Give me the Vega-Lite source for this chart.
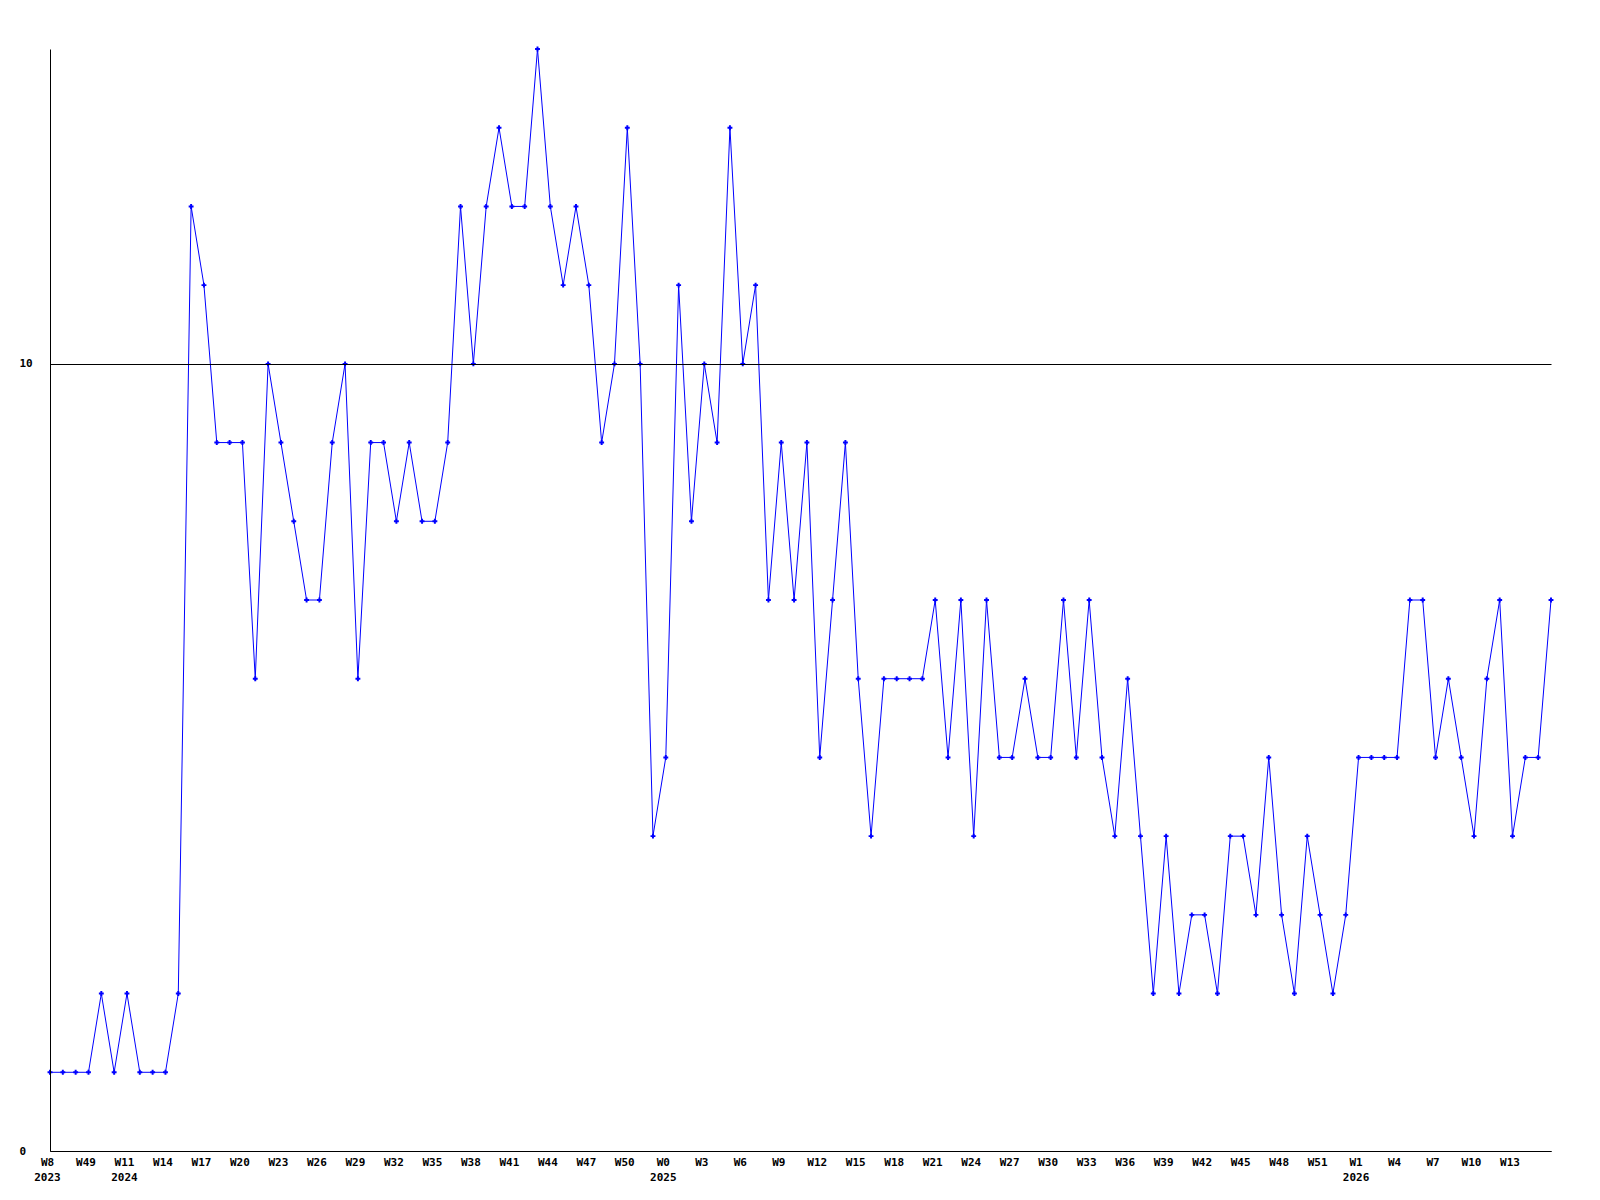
{
  "$schema": "https://vega.github.io/schema/vega-lite/v6.json",
  "width": 1501,
  "height": 1102,
  "autosize": {"type": "none"},
  "padding": {"left": 50, "top": 49, "right": 49, "bottom": 49},
  "background": "white",
  "config": {"view": {"stroke": null}},
  "data": {"values": [
    {"week": "2023-W8", "count": 1}, {"week": "2023-W9", "count": 1}, {"week": "2023-W10", "count": 1},
    {"week": "2023-W49", "count": 1}, {"week": "2023-W50", "count": 2}, {"week": "2023-W51", "count": 1},
    {"week": "2024-W11", "count": 2}, {"week": "2024-W12", "count": 1}, {"week": "2024-W13", "count": 1},
    {"week": "2024-W14", "count": 1}, {"week": "2024-W15", "count": 2}, {"week": "2024-W16", "count": 12},
    {"week": "2024-W17", "count": 11}, {"week": "2024-W18", "count": 9}, {"week": "2024-W19", "count": 9},
    {"week": "2024-W20", "count": 9}, {"week": "2024-W21", "count": 6}, {"week": "2024-W22", "count": 10},
    {"week": "2024-W23", "count": 9}, {"week": "2024-W24", "count": 8}, {"week": "2024-W25", "count": 7},
    {"week": "2024-W26", "count": 7}, {"week": "2024-W27", "count": 9}, {"week": "2024-W28", "count": 10},
    {"week": "2024-W29", "count": 6}, {"week": "2024-W30", "count": 9}, {"week": "2024-W31", "count": 9},
    {"week": "2024-W32", "count": 8}, {"week": "2024-W33", "count": 9}, {"week": "2024-W34", "count": 8},
    {"week": "2024-W35", "count": 8}, {"week": "2024-W36", "count": 9}, {"week": "2024-W37", "count": 12},
    {"week": "2024-W38", "count": 10}, {"week": "2024-W39", "count": 12}, {"week": "2024-W40", "count": 13},
    {"week": "2024-W41", "count": 12}, {"week": "2024-W42", "count": 12}, {"week": "2024-W43", "count": 14},
    {"week": "2024-W44", "count": 12}, {"week": "2024-W45", "count": 11}, {"week": "2024-W46", "count": 12},
    {"week": "2024-W47", "count": 11}, {"week": "2024-W48", "count": 9}, {"week": "2024-W49", "count": 10},
    {"week": "2024-W50", "count": 13}, {"week": "2024-W51", "count": 10}, {"week": "2024-W52", "count": 4},
    {"week": "2025-W0", "count": 5}, {"week": "2025-W1", "count": 11}, {"week": "2025-W2", "count": 8},
    {"week": "2025-W3", "count": 10}, {"week": "2025-W4", "count": 9}, {"week": "2025-W5", "count": 13},
    {"week": "2025-W6", "count": 10}, {"week": "2025-W7", "count": 11}, {"week": "2025-W8", "count": 7},
    {"week": "2025-W9", "count": 9}, {"week": "2025-W10", "count": 7}, {"week": "2025-W11", "count": 9},
    {"week": "2025-W12", "count": 5}, {"week": "2025-W13", "count": 7}, {"week": "2025-W14", "count": 9},
    {"week": "2025-W15", "count": 6}, {"week": "2025-W16", "count": 4}, {"week": "2025-W17", "count": 6},
    {"week": "2025-W18", "count": 6}, {"week": "2025-W19", "count": 6}, {"week": "2025-W20", "count": 6},
    {"week": "2025-W21", "count": 7}, {"week": "2025-W22", "count": 5}, {"week": "2025-W23", "count": 7},
    {"week": "2025-W24", "count": 4}, {"week": "2025-W25", "count": 7}, {"week": "2025-W26", "count": 5},
    {"week": "2025-W27", "count": 5}, {"week": "2025-W28", "count": 6}, {"week": "2025-W29", "count": 5},
    {"week": "2025-W30", "count": 5}, {"week": "2025-W31", "count": 7}, {"week": "2025-W32", "count": 5},
    {"week": "2025-W33", "count": 7}, {"week": "2025-W34", "count": 5}, {"week": "2025-W35", "count": 4},
    {"week": "2025-W36", "count": 6}, {"week": "2025-W37", "count": 4}, {"week": "2025-W38", "count": 2},
    {"week": "2025-W39", "count": 4}, {"week": "2025-W40", "count": 2}, {"week": "2025-W41", "count": 3},
    {"week": "2025-W42", "count": 3}, {"week": "2025-W43", "count": 2}, {"week": "2025-W44", "count": 4},
    {"week": "2025-W45", "count": 4}, {"week": "2025-W46", "count": 3}, {"week": "2025-W47", "count": 5},
    {"week": "2025-W48", "count": 3}, {"week": "2025-W49", "count": 2}, {"week": "2025-W50", "count": 4},
    {"week": "2025-W51", "count": 3}, {"week": "2025-W52", "count": 2}, {"week": "2026-W0", "count": 3},
    {"week": "2026-W1", "count": 5}, {"week": "2026-W2", "count": 5}, {"week": "2026-W3", "count": 5},
    {"week": "2026-W4", "count": 5}, {"week": "2026-W5", "count": 7}, {"week": "2026-W6", "count": 7},
    {"week": "2026-W7", "count": 5}, {"week": "2026-W8", "count": 6}, {"week": "2026-W9", "count": 5},
    {"week": "2026-W10", "count": 4}, {"week": "2026-W11", "count": 6}, {"week": "2026-W12", "count": 7},
    {"week": "2026-W13", "count": 4}, {"week": "2026-W14", "count": 5}, {"week": "2026-W15", "count": 5},
    {"week": "2026-W16", "count": 7}
  ]},
  "encoding": {
    "x": {
      "field": "week",
      "type": "ordinal",
      "sort": null,
      "scale": {"type": "point", "padding": 0},
      "axis": {
        "title": null,
        "values": ["2023-W8", "2023-W49", "2024-W11", "2024-W14", "2024-W17", "2024-W20", "2024-W23", "2024-W26", "2024-W29", "2024-W32", "2024-W35", "2024-W38", "2024-W41", "2024-W44", "2024-W47", "2024-W50", "2025-W0", "2025-W3", "2025-W6", "2025-W9", "2025-W12", "2025-W15", "2025-W18", "2025-W21", "2025-W24", "2025-W27", "2025-W30", "2025-W33", "2025-W36", "2025-W39", "2025-W42", "2025-W45", "2025-W48", "2025-W51", "2026-W1", "2026-W4", "2026-W7", "2026-W10", "2026-W13"],
        "labelExpr": "indexof(['2023-W8','2024-W11','2025-W0','2026-W1'], datum.value) >= 0 ? [split(datum.value,'-')[1], split(datum.value,'-')[0]] : split(datum.value,'-')[1]",
        "ticks": false,
        "grid": false,
        "domainColor": "black",
        "domainWidth": 1,
        "labelFont": "DejaVu Sans Mono",
        "labelFontWeight": "bold",
        "labelFontSize": 11,
        "labelColor": "black",
        "labelPadding": 5,
        "labelOffset": -3,
        "labelLineHeight": 15,
        "labelAngle": 0,
        "labelOverlap": false,
        "labelBaseline": "top"
      }
    },
    "y": {
      "field": "count",
      "type": "quantitative",
      "scale": {"domain": [0, 14], "nice": false},
      "axis": {
        "title": null,
        "values": [0, 10],
        "ticks": false,
        "grid": true,
        "gridColor": "black",
        "gridOpacity": 1,
        "gridWidth": 1,
        "domainColor": "black",
        "domainWidth": 1,
        "labelFont": "DejaVu Sans Mono",
        "labelFontWeight": "bold",
        "labelFontSize": 11,
        "labelColor": "black",
        "labelAlign": "left",
        "labelPadding": 31,
        "zindex": 1
      }
    }
  },
  "layer": [
    {"mark": {"type": "line", "color": "#0000ff", "strokeWidth": 1}},
    {"mark": {"type": "point", "shape": "cross", "filled": true, "size": 24, "color": "#0000ff", "opacity": 1}}
  ]
}
